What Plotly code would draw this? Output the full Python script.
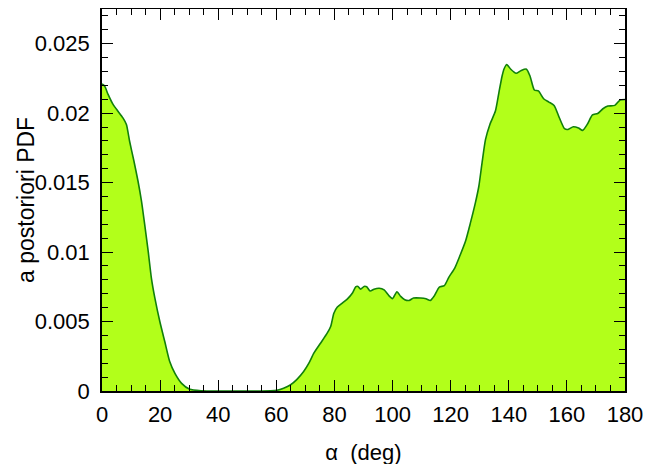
import plotly.graph_objects as go

alpha_deg = [0, 0.9, 2.1, 3.8, 5.5, 7.2, 8.4, 9.5, 11.0, 12.4, 13.6, 14.7, 15.9, 17.0, 18.2, 19.9,
             21.6, 23.3, 25.1, 27.4, 30.2, 34.3, 40, 45, 50, 55, 58, 60.2, 62.5, 64.8, 67.1, 69.4,
             71.2, 72.9, 75.2, 77.5, 78.7, 79.8, 81.0, 82.7, 84.4, 86.2, 87.3, 88.1, 89.0, 90.2,
             91.1, 92.3, 93.6, 95.4, 97.1, 98.8, 100.0, 101.5, 102.8, 104.2, 105.7, 107.2, 109.7,
             111.5, 113.0, 114.3, 116.1, 117.8, 119.4, 121.4, 123.2, 125.1, 126.8, 128.5, 129.7,
             130.8, 132.0, 133.5, 135.4, 136.6, 137.7, 138.4, 139.3, 140.7, 142.5, 144.3, 146.1,
             147.3, 148.8, 150.2, 152.0, 153.8, 155.6, 157.4, 159.2, 160.4, 162.2, 164.0, 165.4,
             167.0, 168.8, 170.6, 172.4, 174.1, 176.5, 178.3, 180]

pdf = [0.0221, 0.02195, 0.02135, 0.02063, 0.02014, 0.01966, 0.01918, 0.01798, 0.01654, 0.0151,
       0.01365, 0.01197, 0.01005, 0.00813, 0.00668, 0.0050, 0.00356, 0.00212, 0.00127, 0.00055,
       0.00012, 0.00002, 0, 0, 0, 0, 0.00001, 0.00005, 0.0002, 0.00043, 0.00084, 0.0014,
       0.0020, 0.00272, 0.00344, 0.00416, 0.00464, 0.0056, 0.00604, 0.00633, 0.00661, 0.00705,
       0.00750, 0.00753, 0.00733, 0.00753, 0.00750, 0.00720, 0.00733, 0.0074, 0.00728, 0.00685,
       0.00665, 0.00715, 0.00681, 0.00657, 0.00652, 0.00669, 0.00669, 0.00664, 0.00652, 0.00683,
       0.00748, 0.00758, 0.00820, 0.00885, 0.00975, 0.01078, 0.0121, 0.01354, 0.01474, 0.01643,
       0.01811, 0.01919, 0.02015, 0.02148, 0.02268, 0.02320, 0.02350, 0.02316, 0.02287, 0.02308,
       0.02317, 0.02268, 0.02167, 0.0216, 0.02104, 0.0208, 0.02056, 0.01967, 0.01888, 0.01883,
       0.01902, 0.01893, 0.01876, 0.01919, 0.01987, 0.01998, 0.02032, 0.02051, 0.02056, 0.02095,
       0.02099]

x_ticks = [0, 20, 40, 60, 80, 100, 120, 140, 160, 180]
y_ticks = [0, 0.005, 0.01, 0.015, 0.02, 0.025]
y_tick_text = ["0", "0.005", "0.01", "0.015", "0.02", "0.025"]

FONT = "Liberation Sans, Arial, sans-serif"

fig = go.Figure()
fig.add_trace(go.Scatter(
    x=alpha_deg, y=pdf, mode="lines", fill="tozeroy",
    fillcolor="#b2ff1a", line=dict(color="#11800a", width=1.6, shape="spline", smoothing=0.6),
    showlegend=False, hoverinfo="x+y",
))

axis_common = dict(
    showline=True, linecolor="black", linewidth=1.6, mirror="allticks",
    ticks="inside", tickcolor="black", tickwidth=1.4, ticklen=11,
    showgrid=False, zeroline=False,
    tickfont=dict(family=FONT, size=22, color="black"),
)

fig.update_xaxes(
    range=[0, 180], tickvals=x_ticks,
    minor=dict(dtick=5, ticks="inside", ticklen=6, tickcolor="black", tickwidth=1.2, showgrid=False),
    title=dict(text="α  (deg)", font=dict(family=FONT, size=22, color="black"), standoff=18),
    ticklabelstandoff=3,
    **axis_common,
)
fig.update_yaxes(
    range=[0, 0.0275], tickvals=y_ticks, ticktext=y_tick_text,
    minor=dict(dtick=0.001, ticks="inside", ticklen=6, tickcolor="black", tickwidth=1.2, showgrid=False),
    ticklabelstandoff=6,
    **axis_common,
)

fig.add_annotation(
    text="a postoriori PDF", xref="paper", yref="paper", x=0, y=0.5,
    xanchor="center", yanchor="middle", xshift=-76, textangle=-90, showarrow=False,
    font=dict(family=FONT, size=23, color="black"),
)

fig.update_layout(
    width=658, height=464,
    margin=dict(l=94, r=41, t=1, b=81, autoexpand=False),
    plot_bgcolor="white", paper_bgcolor="white",
    font=dict(family=FONT, color="black"),
)

fig.write_html("out.html")
